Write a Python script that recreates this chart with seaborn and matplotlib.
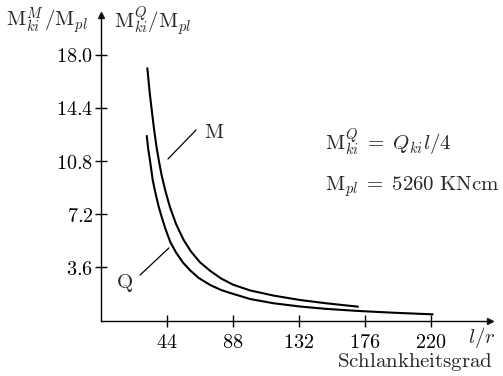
import numpy as np
import pandas as pd
import matplotlib
matplotlib.use("Agg")
import matplotlib.pyplot as plt
import seaborn as sns

# Data
m_x = [30.9, 32.5, 34.0, 35.5, 37.1, 38.8, 40.5, 43.0, 46.0, 50.0, 55.0, 60.0,
       66.0, 72.7, 80.0, 88.0, 99.3, 115.0, 132.7, 150.0, 171.3]
m_y = [17.08, 15.4, 14.1, 12.85, 11.7, 10.7, 9.8, 8.75, 7.68, 6.55, 5.48, 4.68,
       3.95, 3.38, 2.86, 2.44, 2.05, 1.7, 1.4, 1.18, 0.95]
q_x = [30.5, 31.5, 33.0, 34.5, 36.5, 38.5, 40.5, 43.0, 46.3, 50.0, 54.5, 59.3,
       65.0, 72.7, 80.0, 86.0, 99.3, 115.0, 132.7, 150.0, 171.3, 195.0, 221.1]
q_y = [12.5, 11.6, 10.6, 9.5, 8.55, 7.7, 7.0, 6.2, 5.3, 4.62, 3.95, 3.42,
       2.9, 2.42, 2.08, 1.88, 1.47, 1.18, 0.96, 0.8, 0.66, 0.54, 0.43]
x_ticks = [44, 88, 132, 176, 220]
y_ticks = [3.6, 7.2, 10.8, 14.4, 18.0]
x_tick_labels = ["44", "88", "132", "176", "220"]
y_tick_labels = ["3.6", "7.2", "10.8", "14.4", "18.0"]

df = pd.concat([
    pd.DataFrame({"x": m_x, "y": m_y, "s": "M"}),
    pd.DataFrame({"x": q_x, "y": q_y, "s": "Q"}),
])

sns.set_theme(style="white")
plt.rcParams["mathtext.fontset"] = "cm"
plt.rcParams["font.family"] = ["DejaVu Serif"]

fig = plt.figure(figsize=(5.03, 3.76), dpi=100)
ax = fig.add_axes([101 / 503, 55.3 / 376, 389 / 503, 305.7 / 376])

sns.lineplot(data=df, x="x", y="y", units="s", estimator=None, sort=False,
             color="black", lw=1.5, ax=ax, legend=False)

ax.set_xlim(0, 389 / 1.5)
ax.set_ylim(0, 305.7 / 14.78)

for sp in ["top", "right"]:
    ax.spines[sp].set_visible(False)
for sp in ["left", "bottom"]:
    ax.spines[sp].set_linewidth(1.0)
    ax.spines[sp].set_color("black")

ax.plot(1, 0, ">k", ms=5, transform=ax.get_yaxis_transform(), clip_on=False)
ax.plot(0, 1, "^k", ms=5, transform=ax.get_xaxis_transform(), clip_on=False)

ax.set_xticks(x_ticks)
ax.set_xticklabels([f"${t}$" for t in x_tick_labels])
ax.set_yticks(y_ticks)
ax.set_yticklabels([f"${t}$" for t in y_tick_labels])
ax.tick_params(direction="inout", length=9, width=1.0, colors="black",
               labelsize=14.5, pad=1, left=True, bottom=True)
ax.tick_params(axis="x", pad=4)
ax.set_xlabel("")
ax.set_ylabel("")

fs = 15
fig.text(6 / 503, 1 - 21 / 376, r"$\mathrm{M}^{M}_{ki}\,/\mathrm{M}_{pl}$",
         fontsize=fs, va="center", ha="left")
fig.text(114 / 503, 1 - 21 / 376, r"$\mathrm{M}^{Q}_{ki}/\mathrm{M}_{pl}$",
         fontsize=fs, va="center", ha="left")
fig.text(468 / 503, 1 - 338 / 376, r"$l/r$", fontsize=fs, va="center", ha="left")
fig.text(493 / 503, 1 - 362 / 376, r"$\mathrm{Schlankheitsgrad}$",
         fontsize=fs, va="center", ha="right")
fig.text(325 / 503, 1 - 143 / 376, r"$\mathrm{M}^{Q}_{ki}\;=\;Q_{ki}l/4$",
         fontsize=fs, va="center", ha="left")
fig.text(325 / 503, 1 - 187 / 376, r"$\mathrm{M}_{pl}\;=\;5260\ \mathrm{KNcm}$",
         fontsize=fs, va="center", ha="left")

def px2data(px, py):
    return ((px - 101) / 1.5, (320.7 - py) / 14.78)

# leader lines and curve labels
ax.annotate("", xy=px2data(166, 161), xytext=px2data(198, 128),
            arrowprops=dict(arrowstyle="-", color="black", lw=0.9))
ax.text(*px2data(204, 132), r"$\mathrm{M}$", fontsize=fs, va="center", ha="left")
ax.annotate("", xy=px2data(171, 246), xytext=px2data(138, 277),
            arrowprops=dict(arrowstyle="-", color="black", lw=0.9))
ax.text(*px2data(133, 283), r"$\mathrm{Q}$", fontsize=fs, va="center", ha="right")

fig.savefig("out.png", dpi=100)
